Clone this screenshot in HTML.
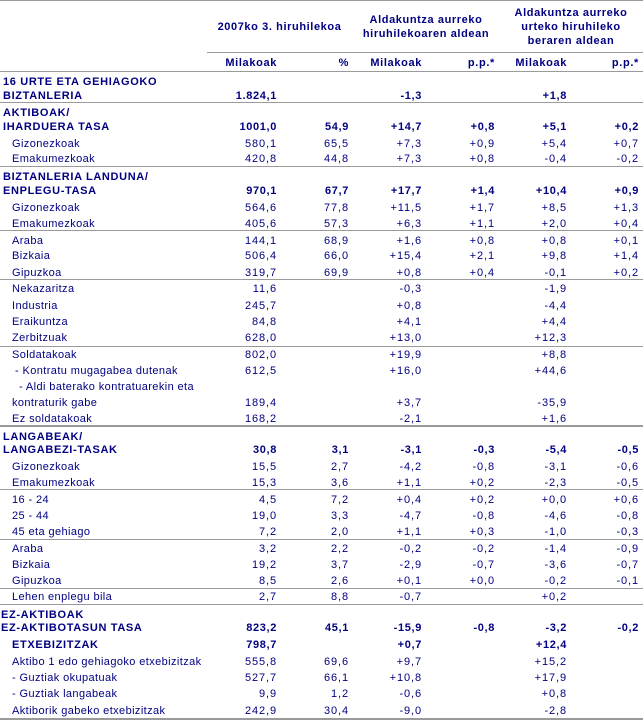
<!DOCTYPE html>
<html><head><meta charset="utf-8">
<style>
html,body{margin:0;padding:0;background:#fff}
#w{position:relative;width:643px;height:720px;overflow:hidden;background:#fff;font-family:"Liberation Sans",sans-serif;font-size:11px;color:#000080}
.r{position:absolute;left:0;width:643px;height:16px;line-height:16px}
.r span{position:absolute;top:0;white-space:nowrap;letter-spacing:0.4px}
.B{font-weight:bold;letter-spacing:0.65px!important}
.r span.a,.r span.b,.r span.c,.r span.d,.r span.e,.r span.f{letter-spacing:0.9px}
.l0{left:3px}.l1{left:12px}.lk{left:15px}.la{left:19px}.lz{left:1px}
.a{right:366px}.b{right:294px}.c{right:221px}.d{right:148px}.e{right:76px}.f{right:4px}
.ln{position:absolute;left:0;width:643px;height:1px;background:#9a9a9a}
.h{position:absolute;text-align:center;font-weight:bold;line-height:14px;letter-spacing:0.6px}
</style></head><body><div id="w">
<div class="ln" style="top:0"></div>
<div class="ln" style="top:52px;left:207px;width:436px"></div>
<div class="ln" style="top:71px"></div>
<div class="ln" style="top:102px"></div>
<div class="ln" style="top:166px"></div>
<div class="ln" style="top:230px"></div>
<div class="ln" style="top:279px"></div>
<div class="ln" style="top:346px"></div>
<div class="ln" style="top:425px;height:2px"></div>
<div class="ln" style="top:489px"></div>
<div class="ln" style="top:539px"></div>
<div class="ln" style="top:588px"></div>
<div class="ln" style="top:604px"></div>
<div class="ln" style="top:718px;height:2px"></div>

<div class="h" style="left:207px;width:145px;top:20px">2007ko 3. hiruhilekoa</div>
<div class="h" style="left:352px;width:148px;top:13px">Aldakuntza aurreko<br>hiruhilekoaren aldean</div>
<div class="h" style="left:500px;width:142px;top:6px">Aldakuntza aurreko<br>urteko hiruhileko<br>beraren aldean</div>

<div class="r" style="top:55px"><span class="a B">Milakoak</span><span class="b B">%</span><span class="c B">Milakoak</span><span class="d B">p.p.*</span><span class="e B">Milakoak</span><span class="f B">p.p.*</span></div>

<div class="r" style="top:74px"><span class="l0 B">16 URTE ETA GEHIAGOKO</span></div>
<div class="r" style="top:88px"><span class="l0 B">BIZTANLERIA</span><span class="a B">1.824,1</span><span class="c B">-1,3</span><span class="e B">+1,8</span></div>

<div class="r" style="top:105px"><span class="l0 B">AKTIBOAK/</span></div>
<div class="r" style="top:119px"><span class="l0 B">IHARDUERA TASA</span><span class="a B">1001,0</span><span class="b B">54,9</span><span class="c B">+14,7</span><span class="d B">+0,8</span><span class="e B">+5,1</span><span class="f B">+0,2</span></div>
<div class="r" style="top:136px"><span class="l1">Gizonezkoak</span><span class="a">580,1</span><span class="b">65,5</span><span class="c">+7,3</span><span class="d">+0,9</span><span class="e">+5,4</span><span class="f">+0,7</span></div>
<div class="r" style="top:151px"><span class="l1">Emakumezkoak</span><span class="a">420,8</span><span class="b">44,8</span><span class="c">+7,3</span><span class="d">+0,8</span><span class="e">-0,4</span><span class="f">-0,2</span></div>

<div class="r" style="top:169px"><span class="l0 B">BIZTANLERIA LANDUNA/</span></div>
<div class="r" style="top:183px"><span class="l0 B">ENPLEGU-TASA</span><span class="a B">970,1</span><span class="b B">67,7</span><span class="c B">+17,7</span><span class="d B">+1,4</span><span class="e B">+10,4</span><span class="f B">+0,9</span></div>
<div class="r" style="top:200px"><span class="l1">Gizonezkoak</span><span class="a">564,6</span><span class="b">77,8</span><span class="c">+11,5</span><span class="d">+1,7</span><span class="e">+8,5</span><span class="f">+1,3</span></div>
<div class="r" style="top:216px"><span class="l1">Emakumezkoak</span><span class="a">405,6</span><span class="b">57,3</span><span class="c">+6,3</span><span class="d">+1,1</span><span class="e">+2,0</span><span class="f">+0,4</span></div>

<div class="r" style="top:233px"><span class="l1">Araba</span><span class="a">144,1</span><span class="b">68,9</span><span class="c">+1,6</span><span class="d">+0,8</span><span class="e">+0,8</span><span class="f">+0,1</span></div>
<div class="r" style="top:248px"><span class="l1">Bizkaia</span><span class="a">506,4</span><span class="b">66,0</span><span class="c">+15,4</span><span class="d">+2,1</span><span class="e">+9,8</span><span class="f">+1,4</span></div>
<div class="r" style="top:265px"><span class="l1">Gipuzkoa</span><span class="a">319,7</span><span class="b">69,9</span><span class="c">+0,8</span><span class="d">+0,4</span><span class="e">-0,1</span><span class="f">+0,2</span></div>

<div class="r" style="top:281px"><span class="l1">Nekazaritza</span><span class="a">11,6</span><span class="c">-0,3</span><span class="e">-1,9</span></div>
<div class="r" style="top:298px"><span class="l1">Industria</span><span class="a">245,7</span><span class="c">+0,8</span><span class="e">-4,4</span></div>
<div class="r" style="top:314px"><span class="l1">Eraikuntza</span><span class="a">84,8</span><span class="c">+4,1</span><span class="e">+4,4</span></div>
<div class="r" style="top:330px"><span class="l1">Zerbitzuak</span><span class="a">628,0</span><span class="c">+13,0</span><span class="e">+12,3</span></div>

<div class="r" style="top:347px"><span class="l1">Soldatakoak</span><span class="a">802,0</span><span class="c">+19,9</span><span class="e">+8,8</span></div>
<div class="r" style="top:363px"><span class="lk">- Kontratu mugagabea dutenak</span><span class="a">612,5</span><span class="c">+16,0</span><span class="e">+44,6</span></div>
<div class="r" style="top:379px"><span class="la">- Aldi baterako kontratuarekin eta</span></div>
<div class="r" style="top:395px"><span class="l1">kontraturik gabe</span><span class="a">189,4</span><span class="c">+3,7</span><span class="e">-35,9</span></div>
<div class="r" style="top:411px"><span class="l1">Ez soldatakoak</span><span class="a">168,2</span><span class="c">-2,1</span><span class="e">+1,6</span></div>

<div class="r" style="top:429px"><span class="l0 B">LANGABEAK/</span></div>
<div class="r" style="top:442px"><span class="l0 B">LANGABEZI-TASAK</span><span class="a B">30,8</span><span class="b B">3,1</span><span class="c B">-3,1</span><span class="d B">-0,3</span><span class="e B">-5,4</span><span class="f B">-0,5</span></div>
<div class="r" style="top:459px"><span class="l1">Gizonezkoak</span><span class="a">15,5</span><span class="b">2,7</span><span class="c">-4,2</span><span class="d">-0,8</span><span class="e">-3,1</span><span class="f">-0,6</span></div>
<div class="r" style="top:475px"><span class="l1">Emakumezkoak</span><span class="a">15,3</span><span class="b">3,6</span><span class="c">+1,1</span><span class="d">+0,2</span><span class="e">-2,3</span><span class="f">-0,5</span></div>

<div class="r" style="top:492px"><span class="l1">16 - 24</span><span class="a">4,5</span><span class="b">7,2</span><span class="c">+0,4</span><span class="d">+0,2</span><span class="e">+0,0</span><span class="f">+0,6</span></div>
<div class="r" style="top:508px"><span class="l1">25 - 44</span><span class="a">19,0</span><span class="b">3,3</span><span class="c">-4,7</span><span class="d">-0,8</span><span class="e">-4,6</span><span class="f">-0,8</span></div>
<div class="r" style="top:524px"><span class="l1">45 eta gehiago</span><span class="a">7,2</span><span class="b">2,0</span><span class="c">+1,1</span><span class="d">+0,3</span><span class="e">-1,0</span><span class="f">-0,3</span></div>

<div class="r" style="top:541px"><span class="l1">Araba</span><span class="a">3,2</span><span class="b">2,2</span><span class="c">-0,2</span><span class="d">-0,2</span><span class="e">-1,4</span><span class="f">-0,9</span></div>
<div class="r" style="top:557px"><span class="l1">Bizkaia</span><span class="a">19,2</span><span class="b">3,7</span><span class="c">-2,9</span><span class="d">-0,7</span><span class="e">-3,6</span><span class="f">-0,7</span></div>
<div class="r" style="top:573px"><span class="l1">Gipuzkoa</span><span class="a">8,5</span><span class="b">2,6</span><span class="c">+0,1</span><span class="d">+0,0</span><span class="e">-0,2</span><span class="f">-0,1</span></div>

<div class="r" style="top:589px"><span class="l1">Lehen enplegu bila</span><span class="a">2,7</span><span class="b">8,8</span><span class="c">-0,7</span><span class="e">+0,2</span></div>

<div class="r" style="top:607px"><span class="lz B">EZ-AKTIBOAK</span></div>
<div class="r" style="top:620px"><span class="lz B">EZ-AKTIBOTASUN TASA</span><span class="a B">823,2</span><span class="b B">45,1</span><span class="c B">-15,9</span><span class="d B">-0,8</span><span class="e B">-3,2</span><span class="f B">-0,2</span></div>
<div class="r" style="top:637px"><span class="l1 B">ETXEBIZITZAK</span><span class="a B">798,7</span><span class="c B">+0,7</span><span class="e B">+12,4</span></div>
<div class="r" style="top:654px"><span class="l1">Aktibo 1 edo gehiagoko etxebizitzak</span><span class="a">555,8</span><span class="b">69,6</span><span class="c">+9,7</span><span class="e">+15,2</span></div>
<div class="r" style="top:670px"><span class="l1">- Guztiak okupatuak</span><span class="a">527,7</span><span class="b">66,1</span><span class="c">+10,8</span><span class="e">+17,9</span></div>
<div class="r" style="top:686px"><span class="l1">- Guztiak langabeak</span><span class="a">9,9</span><span class="b">1,2</span><span class="c">-0,6</span><span class="e">+0,8</span></div>
<div class="r" style="top:703px"><span class="l1">Aktiborik gabeko etxebizitzak</span><span class="a">242,9</span><span class="b">30,4</span><span class="c">-9,0</span><span class="e">-2,8</span></div>
</div></body></html>
